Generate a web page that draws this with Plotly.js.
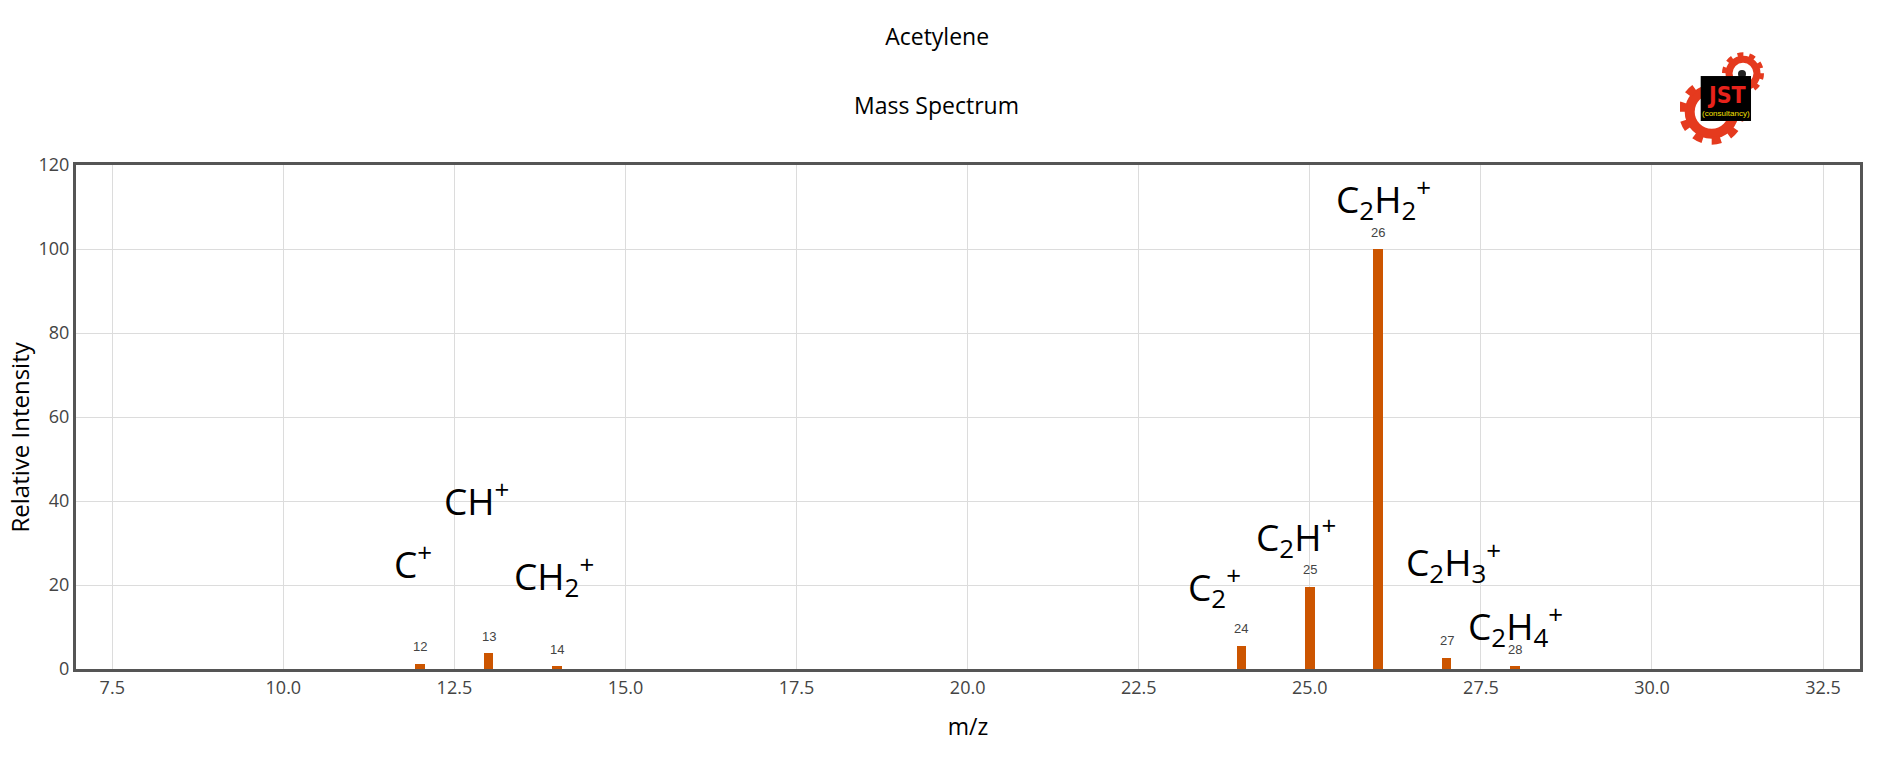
<!DOCTYPE html>
<html>
<head>
<meta charset="utf-8">
<script src="https://cdn.plot.ly/plotly-3.0.1.min.js"></script>
<style>html,body{margin:0;padding:0;background:#fff;}#chart{width:1899px;height:759px;}</style>
</head>
<body>
<div id="chart"></div>
<script>
// ---- data ----
var mz = [12, 13, 14, 24, 25, 26, 27, 28];
var intensity = [1.3, 3.8, 0.7, 5.5, 19.6, 100, 2.7, 0.7];
var peakLabels = ['12', '13', '14', '24', '25', '26', '27', '28'];
var ionNames = ['C<sup>+</sup>', 'CH<sup>+</sup>', 'CH<sub>2</sub><sup>+</sup>', 'C<sub>2</sub><sup>+</sup>',
                'C<sub>2</sub>H<sup>+</sup>', 'C<sub>2</sub>H<sub>2</sub><sup>+</sup>',
                'C<sub>2</sub>H<sub>3</sub><sup>+</sup>', 'C<sub>2</sub>H<sub>4</sub><sup>+</sup>'];
var ionX = [11.9, 12.82, 13.95, 23.6, 24.8, 26.07, 27.1, 28.0];
var ionY = [25.6, 40.6, 22.3, 19.7, 31.6, 112, 25.5, 10.4];
var xTicks = [7.5, 10, 12.5, 15, 17.5, 20, 22.5, 25, 27.5, 30, 32.5];
var yTicks = [0, 20, 40, 60, 80, 100, 120];

var barColor = '#cc5500';

var trace = {
  type: 'bar',
  x: mz,
  y: intensity,
  width: mz.map(function(){ return 0.14; }),
  marker: {color: barColor},
  hoverinfo: 'x+y'
};

var annotations = [];
for (var i = 0; i < mz.length; i++) {
  annotations.push({
    x: mz[i], y: intensity[i], xref: 'x', yref: 'y',
    text: peakLabels[i], showarrow: false, yshift: 17,
    font: {family: 'Liberation Sans, Arial, sans-serif', size: 13, color: '#444'}
  });
  annotations.push({
    x: ionX[i], y: ionY[i], xref: 'x', yref: 'y',
    text: ionNames[i], showarrow: false,
    font: {family: 'Open Sans, sans-serif', size: 37, color: '#000'}
  });
}
annotations.push({
  x: 0.4826, y: 1.119, xref: 'paper', yref: 'paper', xanchor: 'center', yanchor: 'middle',
  text: 'Mass Spectrum', showarrow: false,
  font: {family: 'Open Sans, sans-serif', size: 23, color: '#000'}
});
// y-axis title (placed as in the reference, slightly below the plot centre)
annotations.push({
  x: -0.0316, y: 0.4606, xref: 'paper', yref: 'paper', xanchor: 'center', yanchor: 'middle',
  text: 'Relative Intensity', showarrow: false, textangle: -90,
  font: {family: 'Open Sans, sans-serif', size: 24, color: '#000'}
});
// logo texts
annotations.push({
  x: 0.9249, y: 1.1388, xref: 'paper', yref: 'paper', xanchor: 'center', yanchor: 'middle',
  text: '<b>JST</b>', showarrow: false,
  font: {family: 'Liberation Sans Narrow, DejaVu Sans Condensed, sans-serif', size: 23, color: '#e8221b'}
});
annotations.push({
  x: 0.9249, y: 1.1017, xref: 'paper', yref: 'paper', xanchor: 'center', yanchor: 'middle',
  text: '(consultancy)', showarrow: false,
  font: {family: 'Liberation Sans Narrow, sans-serif', size: 8, color: '#f5e000'}
});

var svg = '<svg xmlns="http://www.w3.org/2000/svg" width="120" height="110" viewBox="0 0 120 110">' +
  '<g fill="none" stroke="#e53a1e">' +
  '<circle cx="31.7" cy="71.7" r="22" stroke-width="10"/>' +
  '<circle cx="31.7" cy="71.7" r="29" stroke-width="8" stroke-dasharray="9.1 9.1"/>' +
  '<circle cx="63" cy="33.3" r="14" stroke-width="7"/>' +
  '<circle cx="63" cy="33.3" r="18.5" stroke-width="5" stroke-dasharray="5.8 5.8"/>' +
  '</g>' +
  '<circle cx="62" cy="34" r="4" fill="#222"/>' +
  '<rect x="20.7" y="36" width="50.3" height="45" fill="#000"/>' +
  '</svg>';
var logoSrc = 'data:image/svg+xml;charset=utf-8,' + encodeURIComponent(svg);

var layout = {
  width: 1899, height: 759,
  margin: {l: 76, r: 39, t: 165, b: 90, pad: 0},
  paper_bgcolor: '#fff', plot_bgcolor: '#fff',
  showlegend: false,
  bargap: 0,
  title: {
    text: 'Acetylene', x: 0.4935, xanchor: 'center', y: 1 - 37 / 759, yref: 'container', yanchor: 'middle',
    font: {family: 'Open Sans, sans-serif', size: 23, color: '#000'}
  },
  xaxis: {
    range: [6.97, 33.04],
    tickvals: xTicks,
    ticktext: xTicks.map(function(v){ return v.toFixed(1); }),
    showgrid: true, gridcolor: '#dcdcdc', gridwidth: 1,
    zeroline: false,
    showline: true, linecolor: '#555', linewidth: 3, mirror: true,
    ticks: '',
    tickfont: {family: 'Open Sans, sans-serif', size: 18, color: '#444'},
    title: {text: 'm/z', standoff: 22, font: {family: 'Open Sans, sans-serif', size: 23, color: '#000'}}
  },
  yaxis: {
    range: [0, 120],
    tickvals: yTicks,
    showgrid: true, gridcolor: '#dcdcdc', gridwidth: 1,
    zeroline: false,
    showline: true, linecolor: '#555', linewidth: 3, mirror: true,
    ticks: '',
    tickfont: {family: 'Open Sans, sans-serif', size: 18, color: '#444'}
  },
  annotations: annotations,
  images: [{
    source: logoSrc, xref: 'paper', yref: 'paper',
    x: 0.8991, y: 1.2479, sizex: 0.06728, sizey: 0.2181,
    xanchor: 'left', yanchor: 'top', sizing: 'stretch', layer: 'above'
  }]
};

Plotly.newPlot('chart', [trace], layout, {displayModeBar: false, staticPlot: true});
</script>
</body>
</html>
